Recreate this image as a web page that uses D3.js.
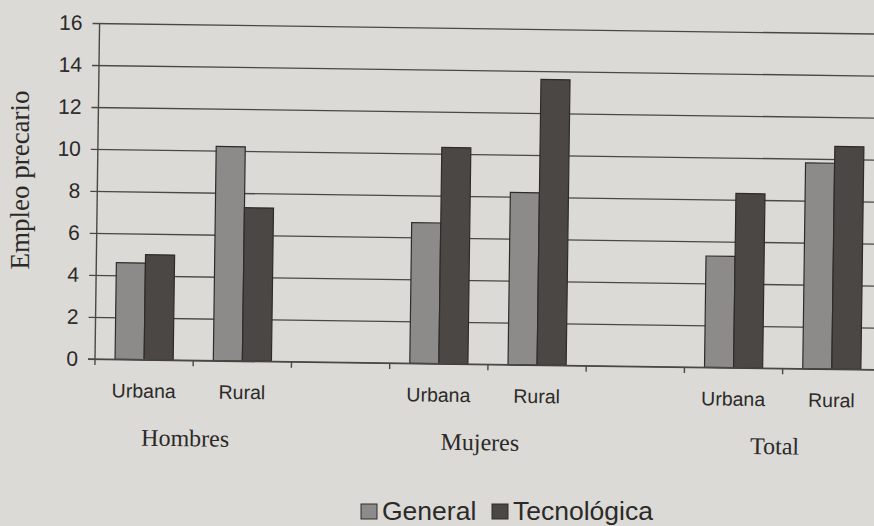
<!DOCTYPE html>
<html lang="es">
<head>
  <meta charset="UTF-8">
  <title>Empleo precario</title>
  <script src="https://d3js.org/d3.v7.min.js"></script>
  <style>
    * { margin: 0; padding: 0; box-sizing: border-box; }
    body { background: #dcdad6; overflow: hidden; }
    #chart { width: 874px; height: 526px; }
  </style>
</head>
<body>
  <div id="chart"></div>
  <script>
    // datos
    const grupos = ["Hombres", "Mujeres", "Total"];
    const zonas = ["Urbana", "Rural"];
    const series = ["General", "Tecnológica"];
    const general = [4.6, 10.2, 6.7, 8.2, 5.3, 9.8];
    const tecnologica = [5.0, 7.3, 10.3, 13.6, 8.3, 10.6];
    const yTicks = [0, 2, 4, 6, 8, 10, 12, 14, 16];

    const W = 874, H = 526;
    const mLeft = 95, mRight = 881, mTop = 23, mBottom = 359;

    const colors = { "General": "#8d8b89", "Tecnológica": "#4a4745" };
    const sans = "'Liberation Sans', Arial, sans-serif";
    const serif = "'Liberation Serif', 'Times New Roman', serif";

    // ranuras: dos zonas por grupo, con un hueco entre grupos
    const slots = [];
    grupos.forEach((g, gi) => {
      zonas.forEach(z => slots.push({ key: g + "|" + z, grupo: g, zona: z }));
      if (gi < grupos.length - 1) slots.push({ key: "gap" + gi, grupo: null, zona: "" });
    });

    const data = [];
    let k = 0;
    grupos.forEach(g => zonas.forEach(z => {
      data.push({ key: g + "|" + z, General: general[k], "Tecnológica": tecnologica[k] });
      k++;
    }));

    const svg = d3.select("#chart").append("svg")
      .attr("width", W).attr("height", H);

    // la foto esta un poco girada
    const g = svg.append("g").attr("transform", "rotate(0.78, 95, 359)");

    const x = d3.scaleBand().domain(slots.map(d => d.key)).range([mLeft, mRight]).padding(0);
    const xs = d3.scaleBand().domain(series).range([0, x.bandwidth()]).paddingInner(0).paddingOuter(0.69);
    const y = d3.scaleLinear().domain([0, 16]).range([mBottom, mTop]);

    // lineas de cuadricula + marcas del eje y
    g.append("g")
      .attr("transform", `translate(${mLeft},0)`)
      .call(d3.axisLeft(y).tickValues(yTicks).tickSize(-(mRight - mLeft)).tickSizeOuter(0).tickPadding(0))
      .call(a => a.select(".domain").remove())
      .call(a => a.selectAll("line").attr("x1", -7).attr("stroke", "#4a4845").attr("stroke-width", 1.4))
      .call(a => a.selectAll("text").attr("x", -17).attr("fill", "#2b2a29")
        .style("font-family", sans).style("font-size", "21px"));

    // eje y
    g.append("line")
      .attr("x1", mLeft).attr("x2", mLeft).attr("y1", y(16)).attr("y2", y(0))
      .attr("stroke", "#4a4845").attr("stroke-width", 1.4);

    // barras
    const grp = g.selectAll(".grp").data(data).enter().append("g")
      .attr("transform", d => `translate(${x(d.key)},0)`);

    grp.selectAll("rect")
      .data(d => series.map(s => ({ s, v: d[s] })))
      .enter().append("rect")
      .attr("x", d => xs(d.s))
      .attr("y", d => y(d.v))
      .attr("width", xs.bandwidth())
      .attr("height", d => y(0) - y(d.v))
      .attr("fill", d => colors[d.s])
      .attr("stroke", "#2e2c2a")
      .attr("stroke-width", 1.2);

    // eje x
    g.append("line")
      .attr("x1", mLeft - 7).attr("x2", mRight).attr("y1", y(0)).attr("y2", y(0))
      .attr("stroke", "#4a4845").attr("stroke-width", 1.4);

    g.selectAll(".xtick").data(slots).enter().append("line")
      .attr("x1", d => x(d.key)).attr("x2", d => x(d.key))
      .attr("y1", y(0)).attr("y2", y(0) + 6)
      .attr("stroke", "#4a4845").attr("stroke-width", 1.4);

    g.selectAll(".zona").data(slots.filter(d => d.grupo)).enter().append("text")
      .attr("x", d => x(d.key) + x.bandwidth() / 2)
      .attr("y", y(0) + 38)
      .attr("text-anchor", "middle")
      .attr("fill", "#2b2a29")
      .style("font-family", sans)
      .style("font-size", "19.5px")
      .text(d => d.zona);

    g.selectAll(".grupo").data(grupos).enter().append("text")
      .attr("x", d => x(d + "|Rural") - 7)
      .attr("y", y(0) + 86)
      .attr("text-anchor", "middle")
      .attr("fill", "#2b2a29")
      .style("font-family", serif)
      .style("font-size", "24px")
      .text(d => d);

    // titulo eje y
    svg.append("text")
      .attr("transform", "translate(29,180) rotate(-90)")
      .attr("text-anchor", "middle")
      .attr("fill", "#2b2a29")
      .style("font-family", serif)
      .style("font-size", "27px")
      .text("Empleo precario");

    // leyenda
    const legend = svg.append("g").attr("transform", "translate(361,504)");
    const legX = [0, 131];
    series.forEach((s, i) => {
      const row = legend.append("g").attr("transform", `translate(${legX[i]},0)`);
      row.append("rect").attr("width", 16).attr("height", 15)
        .attr("fill", colors[s]).attr("stroke", "#2e2c2a").attr("stroke-width", 1);
      row.append("text").attr("x", 21).attr("y", 15.5)
        .attr("fill", "#2b2a29")
        .style("font-family", sans)
        .style("font-size", "26.5px")
        .text(s);
    });
  </script>
</body>
</html>
